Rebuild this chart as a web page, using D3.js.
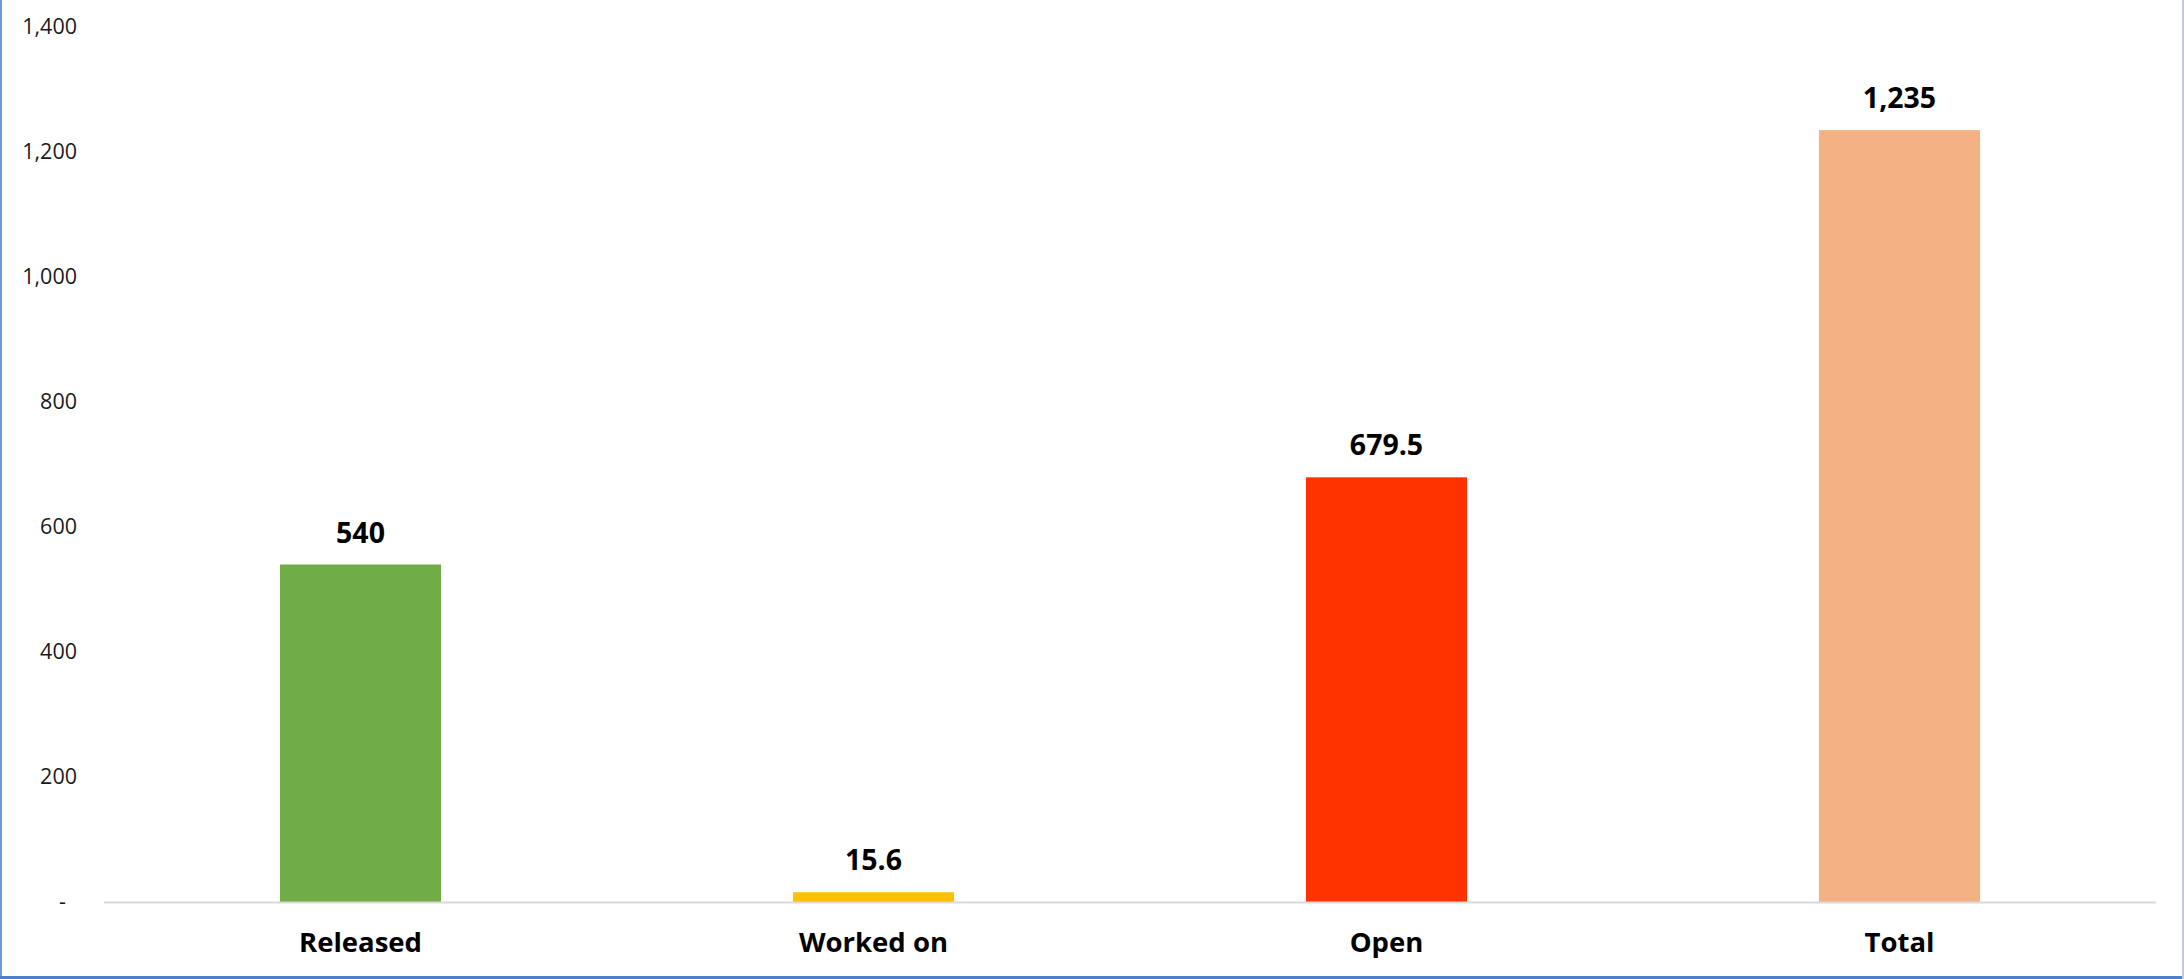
<!DOCTYPE html>
<html>
<head>
<meta charset="utf-8">
<script src="https://cdn.jsdelivr.net/npm/d3@7"></script>
<style>
  html, body { margin: 0; padding: 0; background: #fff; }
  svg { display: block; }
</style>
</head>
<body>
<svg id="chart" width="2184" height="979"></svg>
<script>
const categories = ["Released", "Worked on", "Open", "Total"];
const values = [540, 15.6, 679.5, 1235];
const barColors = ["#70AD47", "#FFC000", "#FF3300", "#F4B183"];
const valueLabels = ["540", "15.6", "679.5", "1,235"];
const yTicks = [0, 200, 400, 600, 800, 1000, 1200, 1400];

const W = 2184, H = 979;
const margin = { left: 104, right: 28, top: 27, bottom: 77 };
const svg = d3.select("#chart");
const font = "'Open Sans', sans-serif";

svg.append("rect").attr("x", 0).attr("y", 0).attr("width", W).attr("height", H).attr("fill", "#fff");

const x = d3.scaleBand()
  .domain(categories)
  .range([margin.left, W - margin.right])
  .paddingInner(0.686)
  .paddingOuter(0.343);

const y = d3.scaleLinear()
  .domain([0, 1400])
  .range([H - margin.bottom, margin.top]);

// y axis (labels only)
const yAxis = d3.axisLeft(y)
  .tickValues(yTicks)
  .tickSize(0)
  .tickPadding(0)
  .tickFormat(d => d === 0 ? "-" : d3.format(",")(d));

const gy = svg.append("g")
  .attr("transform", "translate(77,0)")
  .call(yAxis);
gy.select(".domain").remove();
gy.selectAll("text")
  .attr("font-family", font)
  .attr("font-size", 21.5)
  .attr("fill", "#1a1a1a");
gy.selectAll(".tick").filter(d => d === 0).select("text").attr("dx", -11);

// bars
svg.append("g").selectAll("rect")
  .data(categories)
  .join("rect")
  .attr("x", d => x(d))
  .attr("width", x.bandwidth())
  .attr("y", (d, i) => y(values[i]))
  .attr("height", (d, i) => y(0) - y(values[i]))
  .attr("fill", (d, i) => barColors[i]);

// baseline
svg.append("line")
  .attr("x1", margin.left).attr("x2", W - margin.right)
  .attr("y1", y(0) + 0.5).attr("y2", y(0) + 0.5)
  .attr("stroke", "#D9D9D9").attr("stroke-width", 2);

// value labels
svg.append("g").selectAll("text")
  .data(categories)
  .join("text")
  .attr("x", d => x(d) + x.bandwidth() / 2)
  .attr("y", (d, i) => y(values[i]) - 22)
  .attr("text-anchor", "middle")
  .attr("font-family", font)
  .attr("font-weight", "bold")
  .attr("font-size", 28.5)
  .attr("fill", "#000")
  .text((d, i) => valueLabels[i]);

// x axis labels
const xAxis = d3.axisBottom(x).tickSize(0).tickPadding(0);
const gx = svg.append("g")
  .attr("transform", `translate(0,${y(0)})`)
  .call(xAxis);
gx.select(".domain").remove();
gx.selectAll("text")
  .attr("dy", null)
  .attr("y", 50)
  .attr("font-family", font)
  .attr("font-weight", "bold")
  .attr("font-size", 27.5)
  .attr("fill", "#000");

// frame borders
svg.append("line").attr("x1", 1).attr("x2", 1).attr("y1", 0).attr("y2", H)
  .attr("stroke", "#6F9BD8").attr("stroke-width", 2);
svg.append("line").attr("x1", 0).attr("x2", W).attr("y1", H - 1.5).attr("y2", H - 1.5)
  .attr("stroke", "#4F7FCB").attr("stroke-width", 3);
svg.append("line").attr("x1", W - 1).attr("x2", W - 1).attr("y1", 0).attr("y2", H)
  .attr("stroke", "#C5CAD6").attr("stroke-width", 2);
</script>
</body>
</html>
